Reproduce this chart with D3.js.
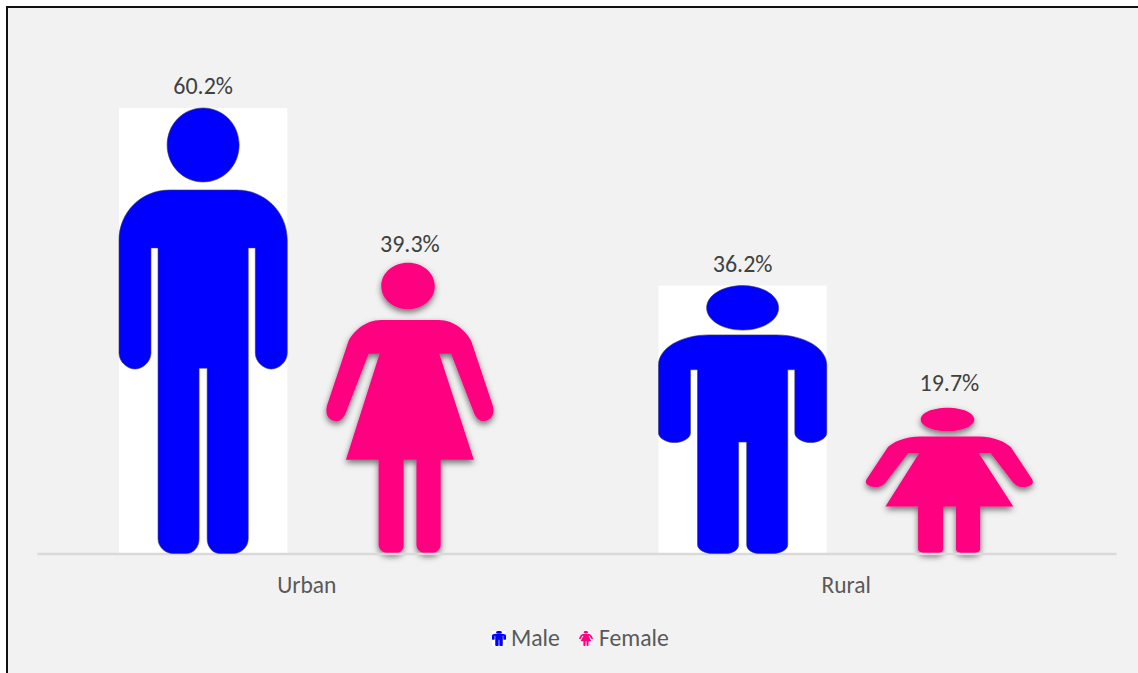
<!DOCTYPE html>
<html>
<head>
<meta charset="utf-8">
<script src="https://cdn.jsdelivr.net/npm/d3@7"></script>
<style>
html,body{margin:0;padding:0;background:#fff;overflow:hidden}
svg{display:block}
text{font-family:Carlito,Lato,"Open Sans",sans-serif}
</style>
</head>
<body>
<div id="chart"></div>
<script>
const categories = ["Urban", "Rural"];
const seriesNames = ["Male", "Female"];
const maleValues = [60.2, 36.2];
const femaleValues = [39.3, 19.7];
const seriesColors = ["#0000ff", "#ff0080"];
const labelGaps = { "Urban|Male": 14, "Rural|Male": 14, "Urban|Female": 11, "Rural|Female": 17 };

// Pictogram outlines in a unit box, stretched to each value like a stretched picture fill.
const maleGlyph = "M.5 0C.62 0 .714 .037 .714 .083C.714 .129 .62 .166 .5 .166C.38 .166 .286 .129 .286 .083C.286 .037 .38 0 .5 0Z" +
  "M.3 .184H.7C.87 .184 1 .235 1 .296V.55C1 .57 .95 .586 .905 .586C.86 .586 .81 .57 .81 .55V.314H.768V.967C.768 .987 .72 1 .68 1H.6C.56 1 .524 .987 .524 .967V.584H.476V.967C.476 .987 .44 1 .4 1H.32C.28 1 .232 .987 .232 .967V.314H.19V.55C.19 .57 .14 .586 .095 .586C.05 .586 0 .57 0 .55V.296C0 .235 .13 .184 .3 .184Z";
const femaleGlyph = "M.489 0C.577 0 .648 .035 .648 .08C.648 .125 .577 .16 .489 .16C.401 .16 .33 .125 .33 .08C.33 .035 .401 0 .489 0Z" +
  "M.33 .197H.67C.77 .197 .84 .24 .865 .27L.992 .49C1.01 .53 .97 .545 .935 .545C.91 .545 .89 .53 .88 .515L.745 .313H.675L.88 .678H.683V.97C.683 .99 .65 1 .62 1H.6C.57 1 .539 .99 .539 .97V.678H.463V.97C.463 .99 .44 1 .41 1H.38C.35 1 .314 .99 .314 .97V.678H.12L.32 .313H.255L.12 .515C.11 .53 .09 .545 .065 .545C.03 .545 -.01 .53 .008 .49L.135 .27C.16 .24 .23 .197 .33 .197Z";

const W = 1138, H = 673;
const svg = d3.select("#chart").append("svg").attr("width", W).attr("height", H);

const defs = svg.append("defs");
const f = defs.append("filter").attr("id", "shadow").attr("x", "-20%").attr("y", "-20%").attr("width", "140%").attr("height", "140%");
f.append("feDropShadow").attr("dx", 0).attr("dy", 3).attr("stdDeviation", 3).attr("flood-color", "#000").attr("flood-opacity", 0.55);

// panel and frame
svg.append("rect").attr("x", 7).attr("y", 7).attr("width", W).attr("height", H)
  .attr("fill", "#f2f2f2").attr("stroke", "#111").attr("stroke-width", 2);

const x0 = d3.scaleBand().domain(categories).range([37, 1116]);
const x1 = d3.scaleBand().domain(seriesNames).range([82, 457]).paddingInner(0.186);
const y = d3.scaleLinear().domain([0, 70]).range([553.5, 35.5]);

const rows = [maleValues, femaleValues].flatMap((vals, s) =>
  vals.map((v, c) => ({ cat: categories[c], ser: seriesNames[s], s, v })));

const marks = svg.append("g").selectAll("g").data(rows).join("g")
  .attr("transform", d => `translate(${x0(d.cat) + x1(d.ser)},${y(d.v)})`);

// white picture backgrounds and female shadows sit under the axis line
marks.filter(d => d.s === 0).append("rect")
  .attr("width", x1.bandwidth()).attr("height", d => y(0) - y(d.v)).attr("fill", "#fff");

marks.filter(d => d.s === 1).append("g").attr("filter", "url(#shadow)")
  .append("path")
  .attr("d", femaleGlyph)
  .attr("transform", d => `scale(${x1.bandwidth()},${y(0) - y(d.v)})`)
  .attr("fill", seriesColors[1]);

// axis
const axis = svg.append("g").attr("transform", `translate(0,${y(0)})`)
  .call(d3.axisBottom(x0).tickSize(0));
axis.select(".domain").attr("stroke", "#d9d9d9").attr("stroke-width", 2.5);
axis.selectAll(".tick text").attr("font-size", 23.5).attr("fill", "#595959").attr("dy", 0)
  .attr("y", 39);

const tops = svg.append("g").selectAll("g").data(rows).join("g")
  .attr("transform", d => `translate(${x0(d.cat) + x1(d.ser)},${y(d.v)})`);

tops.filter(d => d.s === 0).append("path")
  .attr("d", maleGlyph)
  .attr("transform", d => `scale(${x1.bandwidth()},${y(0) - y(d.v)})`)
  .attr("fill", seriesColors[0])
  .attr("stroke", "#3a3a5a")
  .attr("stroke-width", 0.6)
  .attr("vector-effect", "non-scaling-stroke");

tops.append("text")
  .attr("x", x1.bandwidth() / 2).attr("y", d => -labelGaps[d.cat + "|" + d.ser])
  .attr("text-anchor", "middle").attr("font-size", 24).attr("fill", "#404040")
  .text(d => d.v.toFixed(1) + "%");

// legend
const legendItems = [
  { name: seriesNames[0], s: 0, x: 492, tx: 511 },
  { name: seriesNames[1], s: 1, x: 579, tx: 599 }
];
const lg = svg.append("g").selectAll("g").data(legendItems).join("g")
  .attr("transform", d => `translate(${d.x},631)`);
lg.filter(d => d.s === 0).append("rect").attr("width", 14).attr("height", 15).attr("fill", "#fff");
lg.append("path")
  .attr("d", d => d.s === 0 ? maleGlyph : femaleGlyph)
  .attr("transform", "scale(14,15)")
  .attr("fill", d => seriesColors[d.s]);
lg.append("text").attr("x", d => d.tx - d.x).attr("y", 15)
  .attr("font-size", 23.7).attr("fill", "#595959").text(d => d.name);
</script>
</body>
</html>
